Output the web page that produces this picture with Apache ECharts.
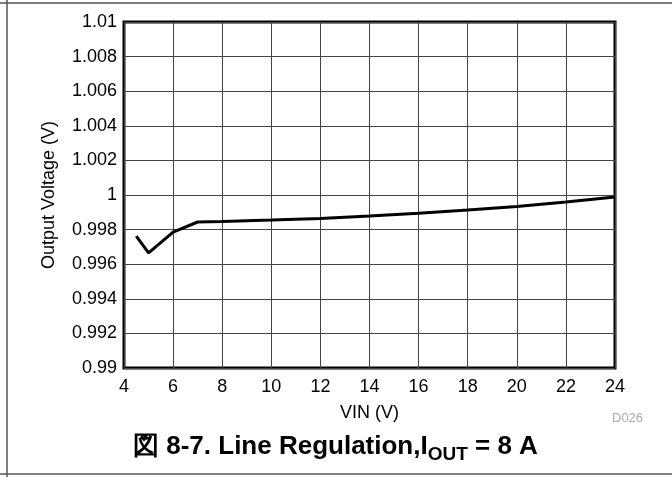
<!DOCTYPE html>
<html>
<head>
<meta charset="utf-8">
<script src="https://cdn.jsdelivr.net/npm/echarts@6/dist/echarts.min.js"></script>
<style>
html,body{margin:0;padding:0;background:#fff;}
#chart{width:672px;height:477px;}
</style>
</head>
<body>
<div id="chart"></div>
<script>
// Data
const vin = [4.5, 5, 6, 7, 8, 10, 12, 14, 16, 18, 20, 22, 24];
const vout = [0.99762, 0.99665, 0.99786, 0.99844, 0.99847, 0.99855, 0.99864, 0.99879, 0.99895, 0.99913, 0.99933, 0.9996, 0.99988];
const xTicks = [4, 6, 8, 10, 12, 14, 16, 18, 20, 22, 24];
const yTicks = [0.99, 0.992, 0.994, 0.996, 0.998, 1, 1.002, 1.004, 1.006, 1.008, 1.01];

const font = '"Liberation Sans", Arial, sans-serif';
const chart = echarts.init(document.getElementById('chart'), null, {renderer: 'canvas'});
chart.setOption({
  animation: false,
  backgroundColor: '#fff',
  grid: {left: 124, right: 57, top: 22, bottom: 109, show: true, borderColor: '#000', borderWidth: 3, backgroundColor: 'transparent'},
  xAxis: {
    type: 'value', min: xTicks[0], max: xTicks[xTicks.length - 1], interval: 2,
    name: 'VIN (V)', nameLocation: 'middle', nameGap: 36,
    nameTextStyle: {fontFamily: font, fontSize: 18, color: '#000'},
    axisLine: {show: false}, axisTick: {show: false},
    axisLabel: {fontFamily: font, fontSize: 18, color: '#000', margin: 10},
    splitLine: {show: true, lineStyle: {color: '#444', width: 1}}
  },
  yAxis: {
    type: 'value', min: yTicks[0], max: yTicks[yTicks.length - 1], interval: 0.002,
    name: 'Output Voltage (V)', nameLocation: 'middle', nameGap: 66,
    nameTextStyle: {fontFamily: font, fontSize: 18, color: '#000'},
    axisLine: {show: false}, axisTick: {show: false},
    axisLabel: {fontFamily: font, fontSize: 18, color: '#000', margin: 7,
      formatter: v => String(parseFloat(v.toFixed(3)))},
    splitLine: {show: true, lineStyle: {color: '#444', width: 1}}
  },
  series: [{
    type: 'line', data: vin.map((x, i) => [x, vout[i]]),
    showSymbol: false, lineStyle: {color: '#000', width: 3}
  }],
  graphic: [
    {type: 'line', shape: {x1: 0, y1: 3, x2: 672, y2: 3}, style: {stroke: '#555', lineWidth: 1.5}},
    {type: 'line', shape: {x1: 0, y1: 474, x2: 672, y2: 474}, style: {stroke: '#555', lineWidth: 1.5}},
    {type: 'line', shape: {x1: 7, y1: 0, x2: 7, y2: 477}, style: {stroke: '#555', lineWidth: 1.5}},
    {type: 'text', left: 612, top: 412, style: {text: 'D026', font: '13px ' + font, fill: '#aaa'}},
    {type: 'text', left: 133, top: 434,
      style: {
        text: '{b|図 8-7. Line Regulation,I}{s|OUT}{b| = 8 A}',
        rich: {
          b: {fontFamily: font, fontWeight: 'bold', fontSize: 26, fill: '#000', lineHeight: 32, verticalAlign: 'top'},
          s: {fontFamily: font, fontWeight: 'bold', fontSize: 19, fill: '#000', lineHeight: 32, verticalAlign: 'top', padding: [11, 0, 0, 0]}
        }
      }}
  ]
});
</script>
</body>
</html>
